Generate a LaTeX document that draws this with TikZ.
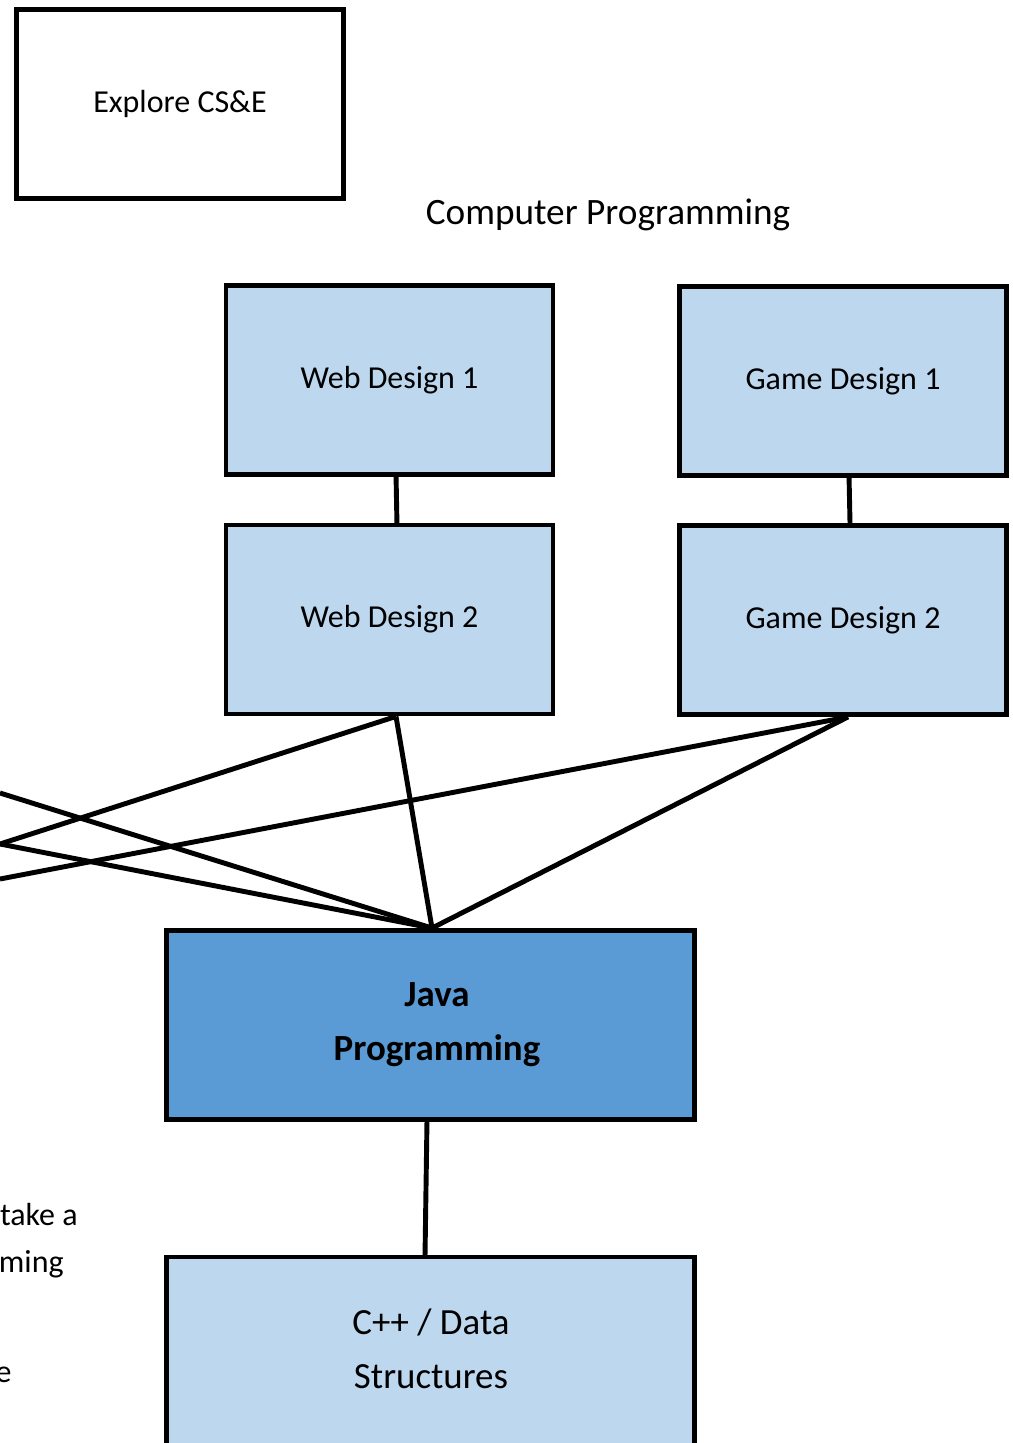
\documentclass[tikz,border=0pt]{standalone}
\usepackage{fontspec}
\setmainfont{Carlito}
\usepackage{xcolor}
\usetikzlibrary{calc}

\definecolor{lightcourse}{HTML}{BDD7EE}
\definecolor{corecourse}{HTML}{5B9BD5}

\tikzset{
  course/.style={draw=black, line width=2.8pt, minimum width=6.54cm, minimum height=3.78cm,
                 font=\fontsize{18.2}{30.6}\selectfont, align=center},
  widecourse/.style={course, minimum width=10.56cm, font=\fontsize{21}{30.6}\selectfont},
  link/.style={line width=2.8pt}
}

\begin{document}
\begin{tikzpicture}[x=0.02cm,y=-0.02cm]
\clip (0,0) rectangle (1013,1443);
%\draw[step=50,gray,very thin] (0,0) grid (1013,1443); %background grid

\node[course,fill=white] (explore) at (180,104) {Explore CS\&E};
\node[font=\fontsize{21.2}{24}\selectfont] (title) at (608,215) {Computer Programming};

\node[course,fill=lightcourse] (wd1) at (389.5,380)   {Web Design 1};
\node[course,fill=lightcourse] (gd1) at (843,381)     {Game Design 1};
\node[course,fill=lightcourse] (wd2) at (389.5,619.5) {Web Design 2};
\node[course,fill=lightcourse] (gd2) at (843,620)     {Game Design 2};

\node[widecourse,fill=corecourse] (java) at (430.5,1025) {};
\node[font=\fontsize{21}{30.6}\selectfont\bfseries,align=center] (javatext) at (437,1025) {Java\\Programming};
\node[widecourse,fill=lightcourse,minimum height=4.6cm,anchor=north] (cpp) at (430.5,1254.5) {};
\node[font=\fontsize{21}{30.6}\selectfont,align=center] (cpptext) at (431,1349) {C++ / Data\\Structures};

% free ends off the left edge
\coordinate (offa) at (0,793);
\coordinate (offb) at (0,844);
\coordinate (offc) at (0,879);

\draw[link] ($(wd1.south)+(6.5,-3)$) -- ($(wd2.north)+(7.5,3)$);
\draw[link] ($(gd1.south)+(6,-3)$) -- ($(gd1.south)+(7,45)$);
\draw[link] ($(wd2.south)+(6.5,0)$) -- ($(java.north)+(1.5,0)$);
\draw[link] ($(gd2.south)+(5,0)$) -- ($(java.north)+(1.5,0)$);
\draw[link] ($(wd2.south)+(6.5,0)$) -- (offb);
\draw[link] ($(gd2.south)+(5,0)$) -- (offc);
\draw[link] ($(java.north)+(1.5,0)$) -- (offa);
\draw[link] ($(java.north)+(1.5,0)$) -- (offb);
\draw[link] ($(java.south)+(-3.5,-2)$) -- ($(cpp.north)+(-5.5,2)$);

% cut-off side text
\node[anchor=base east,font=\fontsize{18.2}{24}\selectfont,inner sep=0pt] (sidea) at (78,1225) {take a};
\node[anchor=base east,font=\fontsize{18.2}{24}\selectfont,inner sep=0pt] (sideb) at (64,1272) {ming};
\node[anchor=base east,font=\fontsize{18.2}{24}\selectfont,inner sep=0pt] (sidec) at (12,1382) {e};

\end{tikzpicture}
\end{document}
